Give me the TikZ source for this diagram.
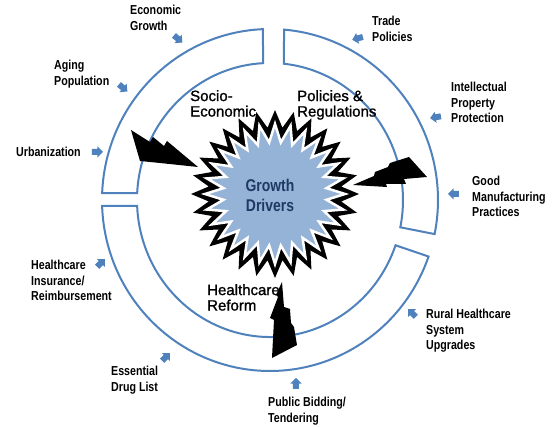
\documentclass[tikz,border=0pt]{standalone}
\usepackage{fontspec}
\setmainfont{Liberation Sans}
\newfontfamily\narrowfont{Liberation Sans}[FakeStretch=0.82]
\newfontfamily\groupfont{Liberation Sans}[FakeBold=1.2]
\usetikzlibrary{shapes.geometric,shapes.arrows}
\definecolor{ringblue}{RGB}{79,129,189}
\definecolor{starblue}{RGB}{149,179,215}
\definecolor{drivernavy}{RGB}{31,56,100}
\tikzset{
  ring/.style={draw=ringblue, line width=2pt, fill=white},
  factor/.style={font=\narrowfont\bfseries\fontsize{13}{15.5}\selectfont, align=left, inner sep=0pt},
  group/.style={font=\groupfont\fontsize{15}{15.5}\selectfont, align=left, inner sep=0pt},
  pointer/.style={single arrow, fill=ringblue, inner xsep=0pt, inner ysep=2.8pt, minimum height=11pt, single arrow head extend=2.6pt},
  bolt/.style={fill=black},
}
\begin{document}
\begin{tikzpicture}[x=1pt, y=1pt]
\useasboundingbox (-270,-227) rectangle (288,200);

% ring segments
\draw[ring] (177.7:168 and 171) arc[start angle=177.7, end angle=92.4, x radius=168, y radius=171]
  -- (93:133 and 137) arc[start angle=93, end angle=177.1, x radius=133, y radius=137] -- cycle;
\draw[ring] (85.2:168 and 171) arc[start angle=85.2, end angle=-11.5, x radius=168, y radius=171]
  -- (-11.5:133 and 137) arc[start angle=-11.5, end angle=84, x radius=133, y radius=137] -- cycle;
\draw[ring] (182:168 and 171) arc[start angle=182, end angle=340.7, x radius=168, y radius=171]
  -- (340.7:133 and 137) arc[start angle=340.7, end angle=182.5, x radius=133, y radius=137] -- cycle;

% bolts
\fill[bolt] (-139,70) -- (-120,58) -- (-117,63) -- (-106,54) -- (-103,59) -- (-72,33)
  -- (-110,37) -- (-130,39) -- cycle;
\fill[bolt] (83,15) -- (104,24) -- (105,28) -- (118,33) -- (120,37) -- (139,43) -- (157,23)
  -- (134,21) -- (136,16) -- (116,16) -- (117,13) -- cycle;
\fill[bolt] (12,-82) -- (14,-107) -- (20,-109) -- (21,-123) -- (24,-127) -- (27,-145) -- (2,-158)
  -- (4,-120) -- (0,-118) -- (8,-97) -- (6,-95) -- cycle;

% star
\node[star, star points=28, star point ratio=1.26, minimum size=168pt, inner sep=0pt, fill=black] (burst) at (5,6) {};
\node[star, star points=28, star point ratio=1.35, minimum size=140pt, inner sep=0pt, fill=starblue, draw=white, line width=2.5pt] (core) at (5,6) {};
\node[font=\narrowfont\bfseries\fontsize{17}{20}\selectfont, text=drivernavy, align=center] (drivers) at (0,5) {Growth\\Drivers};

% groups
\node[group, anchor=north west] (socio) at (-80,110) {Socio-\\Economic};
\node[group, anchor=north west] (policies) at (27,110) {Policies \&\\Regulations};
\node[group, anchor=north west] (reform) at (-63,-84) {Healthcare\\Reform};

% factors
\node[factor, anchor=north west] (econ) at (-140,195) {Economic\\Growth};
\node[factor, anchor=north west] (aging) at (-216,140) {Aging\\Population};
\node[factor, anchor=west] (urban) at (-254,48) {Urbanization};
\node[factor, anchor=north west] (trade) at (102,184) {Trade\\Policies};
\node[factor, anchor=north west] (ip) at (181,118) {Intellectual\\Property\\Protection};
\node[factor, anchor=north west] (gmp) at (202,24) {Good\\Manufacturing\\Practices};
\node[factor, anchor=north west] (rural) at (156,-109) {Rural Healthcare\\System\\Upgrades};
\node[factor, anchor=north west] (bidding) at (-2,-197) {Public Bidding/\\Tendering};
\node[factor, anchor=north west] (edl) at (-159,-166) {Essential\\Drug List};
\node[factor, anchor=north west] (insurance) at (-239,-60) {Healthcare\\Insurance/\\Reimbursement};

% pointers
\node[pointer, rotate=-40] (econ arrow) at (-93,162) {};
\node[pointer, rotate=-40] (aging arrow) at (-148,113) {};
\node[pointer] (urban arrow) at (-174,48) {};
\node[pointer, rotate=195] (trade arrow) at (89,162) {};
\node[pointer, rotate=190] (ip arrow) at (167,83) {};
\node[pointer, rotate=180] (gmp arrow) at (185,6) {};
\node[pointer, rotate=135] (rural arrow) at (143,-114) {};
\node[pointer, rotate=90] (bidding arrow) at (26,-185) {};
\node[pointer, rotate=45] (edl arrow) at (-105,-158) {};
\node[pointer, rotate=45] (insurance arrow) at (-170,-64) {};
\end{tikzpicture}
\end{document}
